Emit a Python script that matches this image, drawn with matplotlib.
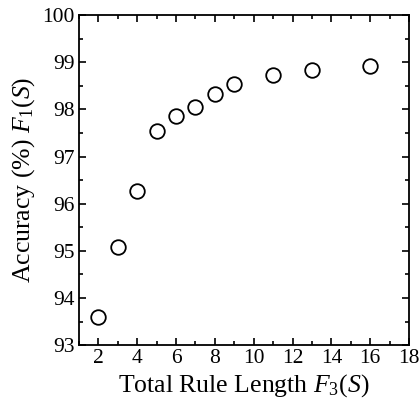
import matplotlib
matplotlib.use('Agg')
import matplotlib.pyplot as plt
from matplotlib.ticker import MultipleLocator

plt.rcParams['font.family'] = ['Liberation Serif', 'DejaVu Serif']
plt.rcParams['mathtext.fontset'] = 'custom'
plt.rcParams['mathtext.rm'] = 'Liberation Serif'
plt.rcParams['mathtext.it'] = 'Liberation Serif:italic'

rule_length = [2, 3, 4, 5, 6, 7, 8, 9, 11, 13, 16]
accuracy = [93.6, 95.08, 96.27, 97.55, 97.85, 98.05, 98.33, 98.53, 98.73, 98.83, 98.93]

fig = plt.figure(figsize=(4.2, 4.08), dpi=100)
ax = fig.add_axes([0.188, 0.154, 0.786, 0.809])

ax.plot(rule_length, accuracy, 'o', ms=10.5, mfc='white', mec='black', mew=1.3)

ax.set_xlim(1, 18)
ax.set_ylim(93, 100)
ax.xaxis.set_major_locator(MultipleLocator(2))
ax.xaxis.set_minor_locator(MultipleLocator(1))
ax.yaxis.set_major_locator(MultipleLocator(1))
ax.yaxis.set_minor_locator(MultipleLocator(0.5))
ax.tick_params(which='both', direction='in', top=True, right=True, width=1.2,
               labelsize=15.5, pad=3)
ax.tick_params(which='major', length=5)
ax.tick_params(which='minor', length=3)
for s in ax.spines.values():
    s.set_linewidth(1.3)

ax.set_xlabel(r'Total Rule Length $F_3(S)$', fontsize=18.5, labelpad=3)
ax.set_ylabel(r'Accuracy (%) $F_1(S)$', fontsize=18.5, labelpad=4)

fig.savefig('out.png', dpi=100)
